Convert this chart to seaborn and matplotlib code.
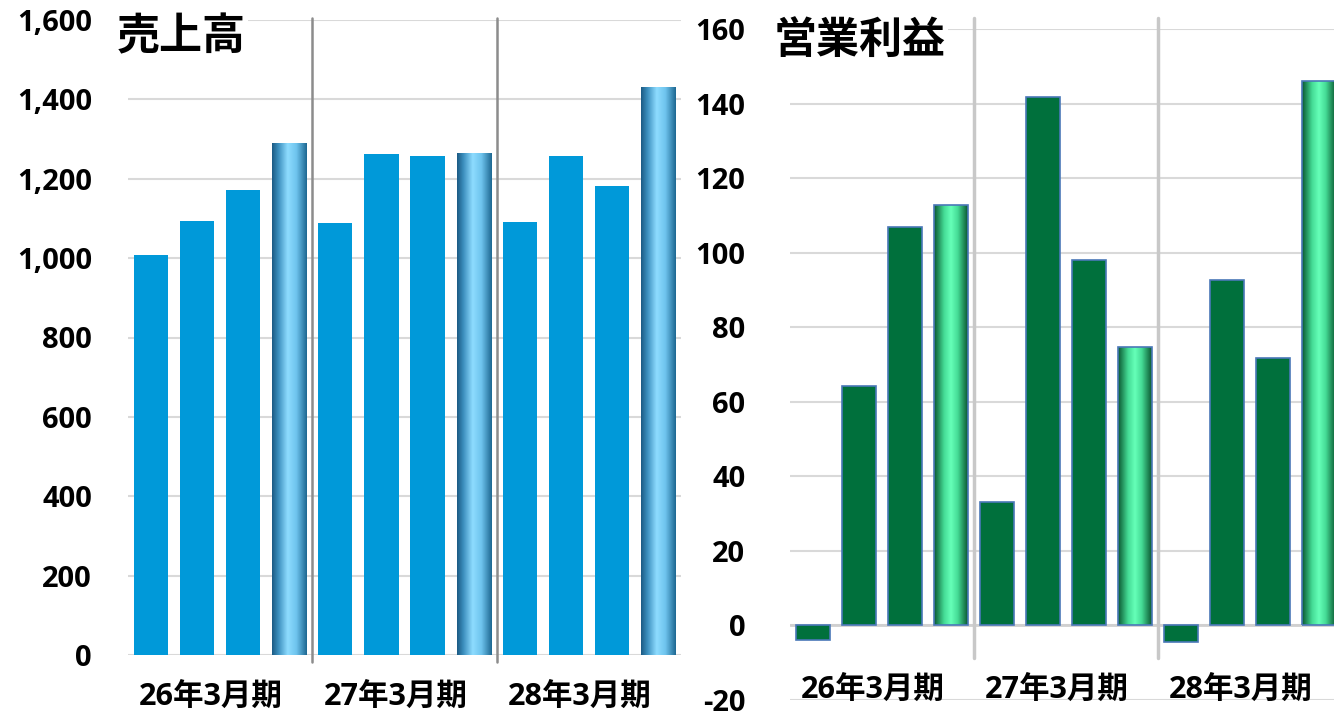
"""
売上高 / 営業利益 の四半期推移 (26年3月期 - 28年3月期)
"""

import numpy as np
import pandas as pd
import matplotlib
matplotlib.use('Agg')
import matplotlib.pyplot as plt
from matplotlib.colors import LinearSegmentedColormap
import seaborn as sns

# ---- datos ----
periodos = ['26年3月期', '27年3月期', '28年3月期']
trimestres = ['1Q', '2Q', '3Q', '4Q']
ventas = [1007, 1093, 1171, 1290,
          1088, 1262, 1257, 1264,
          1091, 1257, 1181, 1431]
beneficio = [-4.0, 64.2, 107.0, 112.9,
             33.2, 141.8, 97.9, 74.6,
             -4.5, 92.6, 71.7, 146.1]
ventas_ticks = [0, 200, 400, 600, 800, 1000, 1200, 1400, 1600]
beneficio_ticks = [-20, 0, 20, 40, 60, 80, 100, 120, 140, 160]

sns.set_theme(style='white')
plt.rcParams['font.family'] = ['Open Sans', 'Noto Sans CJK JP', 'DejaVu Sans']
plt.rcParams['font.weight'] = 'bold'
plt.rcParams['text.color'] = 'black'
plt.rcParams['ytick.color'] = 'black'
plt.rcParams['ytick.labelcolor'] = 'black'
JP = ['Noto Sans CJK JP', 'DejaVu Sans']

n = len(ventas)
etiquetas = [f"{p}-{q}" for p in periodos for q in trimestres]
df = pd.DataFrame({'pos': etiquetas, 'ventas': ventas, 'beneficio': beneficio})

cmap_azul = LinearSegmentedColormap.from_list(
    'azul', [(0, '#1b5a83'), (0.18, '#3b8ebd'), (0.45, '#8edcff'),
             (0.7, '#6ec4ee'), (1, '#1d6791')])
cmap_verde = LinearSegmentedColormap.from_list(
    'verde', [(0, '#0a5630'), (0.3, '#45dc96'), (0.5, '#66ffb8'),
              (0.7, '#45dc96'), (1, '#0a5630')])


def sombrear(ax, patch, cmap):
    """Relleno degradado (cilindro) dentro de la barra"""
    x0, y0 = patch.get_x(), patch.get_y()
    w, h = patch.get_width(), patch.get_height()
    grad = np.linspace(0, 1, 256)[None, :]
    im = ax.imshow(grad, extent=[x0, x0 + w, y0, y0 + h], aspect='auto',
                   cmap=cmap, zorder=patch.get_zorder() + 0.1,
                   interpolation='bilinear')
    im.set_clip_path(patch)
    patch.set_facecolor('none')
    patch.set_zorder(patch.get_zorder() + 0.2)


fig = plt.figure(figsize=(13.34, 7.16), dpi=100)
ax1 = fig.add_axes([128 / 1334, 1 - 655 / 716, 553 / 1334, 635 / 716])
ax2 = fig.add_axes([790 / 1334, 1 - 700 / 716, 552 / 1334, 671 / 716])

# 1. 売上高
sns.barplot(data=df, x='pos', y='ventas', order=etiquetas, color='#0099d9',
            width=0.74, saturation=1, ax=ax1, zorder=2)
for i, p in enumerate(ax1.patches):
    p.set_linewidth(0)
    if i % 4 == 3:
        sombrear(ax1, p, cmap_azul)
ax1.set_xlim(-0.5, n - 0.5)
ax1.set_ylim(0, 1600)
ax1.set_yticks(ventas_ticks)
ax1.set_yticklabels([f"{v:,}" for v in ventas_ticks], fontsize=21, fontweight='bold')
ax1.tick_params(axis='y', length=0, pad=26)
ax1.set_xticks([])
ax1.set_xlabel('')
ax1.set_ylabel('')
ax1.yaxis.grid(True, color='#d9d9d9', lw=1.5)
ax1.set_axisbelow(True)
for s in ax1.spines.values():
    s.set_visible(False)
for xs in [3.5, 7.5]:
    ax1.plot([xs, xs], [-18, 1605], color='#8c8c8c', lw=1.8, clip_on=False, zorder=3)
for k, per in enumerate(periodos):
    ax1.text(4 * k + 1.3, -105, per, ha='center', va='center',
             fontsize=22, fontweight='bold')
ax1.text(-0.75, 1560, '売上高', ha='left', va='center', fontsize=31, fontweight='bold',
         family=JP, zorder=5, bbox=dict(facecolor='white', edgecolor='none', pad=2))

# 2. 営業利益
sns.barplot(data=df, x='pos', y='beneficio', order=etiquetas, color='#00703c',
            width=0.72, saturation=1, ax=ax2, zorder=2)
for i, p in enumerate(ax2.patches):
    p.set_edgecolor('#4a78b8')
    p.set_linewidth(1.2)
    if i % 4 == 3:
        sombrear(ax2, p, cmap_verde)
ax2.set_xlim(-0.5, n - 0.5)
ax2.set_ylim(-20, 160)
ax2.set_yticks(beneficio_ticks)
ax2.set_yticklabels([str(v) for v in beneficio_ticks], fontsize=21, fontweight='bold')
ax2.tick_params(axis='y', length=0, pad=32)
ax2.set_xticks([])
ax2.set_xlabel('')
ax2.set_ylabel('')
ax2.yaxis.grid(True, color='#d9d9d9', lw=1.5)
ax2.set_axisbelow(True)
for s in ax2.spines.values():
    s.set_visible(False)
ax2.axhline(0, color='#d0d0d0', lw=2, zorder=1)
for xs in [3.5, 7.5]:
    ax2.plot([xs, xs], [-8.6, 163], color='#c8c8c8', lw=2.5, clip_on=False, zorder=3)
for k, per in enumerate(periodos):
    ax2.text(4 * k + 1.3, -17.4, per, ha='center', va='center',
             fontsize=22, fontweight='bold')
ax2.text(-0.85, 157, '営業利益', ha='left', va='center', fontsize=31, fontweight='bold',
         family=JP, zorder=5, bbox=dict(facecolor='white', edgecolor='none', pad=2))

fig.savefig('out.png', dpi=100)
